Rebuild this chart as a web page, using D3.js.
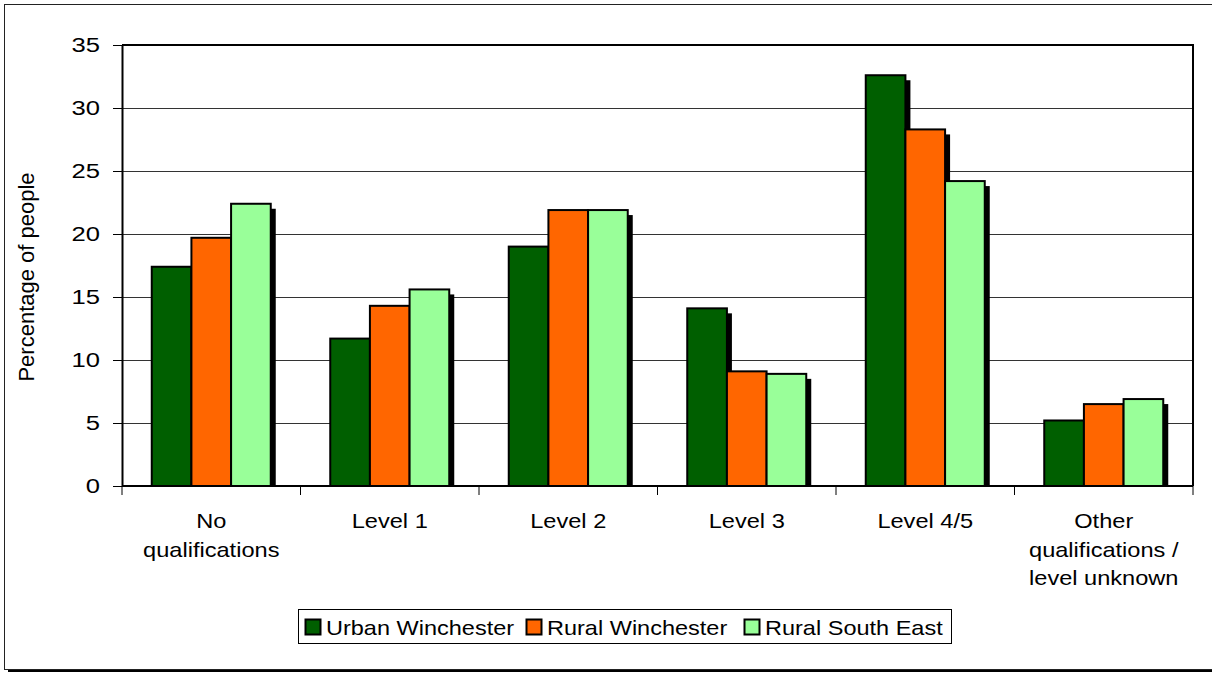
<!DOCTYPE html>
<html>
<head>
<meta charset="utf-8">
<script src="https://cdn.jsdelivr.net/npm/d3@7"></script>
<style>
  body { margin: 0; background: #fff; }
  text { font-family: "Liberation Sans", Arial, sans-serif; fill: #000; }
</style>
</head>
<body>
<div id="chart-area"></div>
<script>
// qualification levels, three areas compared
var categories = ["No qualifications", "Level 1", "Level 2", "Level 3", "Level 4/5", "Other qualifications / level unknown"];
var categoryLines = [["No", "qualifications"], ["Level 1"], ["Level 2"], ["Level 3"], ["Level 4/5"], ["Other", "qualifications /", "level unknown"]];
var seriesNames = ["Urban Winchester", "Rural Winchester", "Rural South East"];
var urbanWinchester = [17.4, 11.7, 19.0, 14.1, 32.6, 5.2];
var ruralWinchester = [19.7, 14.3, 21.9, 9.1, 28.3, 6.5];
var ruralSouthEast = [22.4, 15.6, 21.9, 8.9, 24.2, 6.9];
var yTicks = [0, 5, 10, 15, 20, 25, 30, 35];
var colors = ["#005f00", "#ff6600", "#99ff99"];

var seriesValues = [urbanWinchester, ruralWinchester, ruralSouthEast];

// plot area box
var plotLeft = 122, plotRight = 1193, plotTop = 45, plotBottom = 486;

var svg = d3.select("#chart-area").append("svg")
    .attr("width", 1212)
    .attr("height", 674);

// outer chart frame (runs off the right side) and its shadow
svg.append("rect")
    .attr("x", 8).attr("y", 669)
    .attr("width", 1220).attr("height", 3)
    .attr("fill", "#000");
svg.append("rect")
    .attr("x", 4.5).attr("y", 4.5)
    .attr("width", 1230).attr("height", 665)
    .attr("fill", "none")
    .attr("stroke", "#222")
    .attr("stroke-width", 1);

var x = d3.scaleBand()
    .domain(categories)
    .range([plotLeft, plotRight])
    .padding(0);

var xInner = d3.scaleBand()
    .domain(seriesNames)
    .range([0, x.bandwidth()])
    .paddingInner(0)
    .paddingOuter(0.75);

var y = d3.scaleLinear()
    .domain([0, 35])
    .range([plotBottom, plotTop]);

// gridlines
svg.append("g").selectAll("line")
    .data(yTicks.filter(function (d) { return d > 0 && d < 35; }))
    .enter().append("line")
    .attr("x1", plotLeft).attr("x2", plotRight)
    .attr("y1", function (d) { return Math.round(y(d)) + 0.5; })
    .attr("y2", function (d) { return Math.round(y(d)) + 0.5; })
    .attr("stroke", "#333")
    .attr("stroke-width", 1);

// one row per bar
var bars = [];
seriesNames.forEach(function (s, si) {
    categories.forEach(function (c, ci) {
        bars.push({ series: s, si: si, category: c, value: seriesValues[si][ci] });
    });
});

// shadows
svg.append("g").selectAll("rect")
    .data(bars)
    .enter().append("rect")
    .attr("x", function (d) { return x(d.category) + xInner(d.series) + 5; })
    .attr("y", function (d) { return y(d.value) + 5; })
    .attr("width", xInner.bandwidth())
    .attr("height", function (d) { return Math.max(0, plotBottom - y(d.value) - 5); })
    .attr("fill", "#000");

// bars
svg.append("g").selectAll("rect")
    .data(bars)
    .enter().append("rect")
    .attr("x", function (d) { return x(d.category) + xInner(d.series); })
    .attr("y", function (d) { return y(d.value); })
    .attr("width", xInner.bandwidth())
    .attr("height", function (d) { return plotBottom - y(d.value); })
    .attr("fill", function (d) { return colors[d.si]; })
    .attr("stroke", "#000")
    .attr("stroke-width", 2);

// plot frame: top and right sides
svg.append("path")
    .attr("d", "M" + plotLeft + "," + plotTop + "H" + plotRight + "V" + plotBottom)
    .attr("fill", "none")
    .attr("stroke", "#000")
    .attr("stroke-width", 2);

// y axis
var yAxis = svg.append("g")
    .attr("transform", "translate(" + plotLeft + ",0)")
    .call(d3.axisLeft(y).tickValues(yTicks).tickSize(9).tickSizeOuter(0));
yAxis.select(".domain").attr("stroke", "#000").attr("stroke-width", 2);
yAxis.selectAll(".tick line").attr("stroke", "#000");
yAxis.selectAll(".tick text")
    .attr("font-size", 21)
    .attr("font-family", "Liberation Sans, Arial, sans-serif")
    .attr("x", -22 / 1.22)
    .attr("transform", "scale(1.22,1)");

// x axis, ticks sit on the category boundaries
var boundaries = categories.map(function (c) { return x(c); }).concat([plotRight]);
var xAxis = svg.append("g");
xAxis.append("line")
    .attr("x1", plotLeft).attr("x2", plotRight)
    .attr("y1", plotBottom).attr("y2", plotBottom)
    .attr("stroke", "#000").attr("stroke-width", 2);
xAxis.selectAll(".tk")
    .data(boundaries)
    .enter().append("line")
    .attr("class", "tk")
    .attr("x1", function (d) { return d; }).attr("x2", function (d) { return d; })
    .attr("y1", plotBottom).attr("y2", plotBottom + 9)
    .attr("stroke", "#000");

// category labels
categories.forEach(function (c, i) {
    var cx = x(c) + x.bandwidth() / 2;
    categoryLines[i].forEach(function (line, li) {
        svg.append("text")
            .attr("transform", "translate(" + cx + "," + (528 + li * 28.5) + ") scale(1.18,1)")
            .attr("text-anchor", "middle")
            .attr("font-size", 20)
            .text(line);
    });
});

// axis title
svg.append("text")
    .attr("transform", "translate(34,277) rotate(-90)")
    .attr("text-anchor", "middle")
    .attr("font-size", 22)
    .text("Percentage of people");

// legend
var legend = svg.append("g");
legend.append("rect")
    .attr("x", 298.5).attr("y", 609.5)
    .attr("width", 653).attr("height", 34)
    .attr("fill", "#fff")
    .attr("stroke", "#000");
var legendX = [305, 526, 744];
seriesNames.forEach(function (s, i) {
    legend.append("rect")
        .attr("x", legendX[i] + 0.5).attr("y", 619.5)
        .attr("width", 15).attr("height", 15)
        .attr("fill", colors[i])
        .attr("stroke", "#000")
        .attr("stroke-width", 2);
    legend.append("text")
        .attr("transform", "translate(" + (legendX[i] + 21) + ",635) scale(1.12,1)")
        .attr("font-size", 21)
        .text(s);
});
</script>
</body>
</html>
